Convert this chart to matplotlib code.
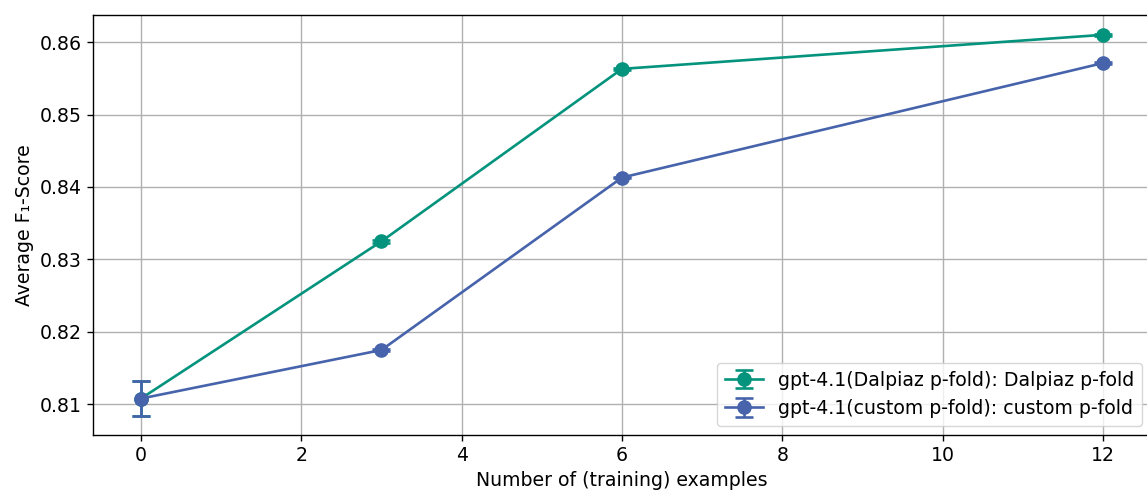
import matplotlib
matplotlib.use("Agg")
import matplotlib.pyplot as plt

examples = [0, 3, 6, 12]

dalpiaz_mean = [0.8108, 0.8325, 0.8563, 0.8610]
dalpiaz_err = [0.0024, 0.0002, 0.0001, 0.0001]

custom_mean = [0.8108, 0.8175, 0.8413, 0.8571]
custom_err = [0.0024, 0.0001, 0.0001, 0.0001]

labels = ["gpt-4.1(Dalpiaz p-fold): Dalpiaz p-fold",
          "gpt-4.1(custom p-fold): custom p-fold"]
colors = ["#04937c", "#4663ab"]

FS = 13.6

fig = plt.figure(figsize=(11.47, 4.94), dpi=100)
ax = fig.add_axes([0.081, 0.1194, 0.9225, 0.8502])

for mean, err, lab, col in zip([dalpiaz_mean, custom_mean],
                               [dalpiaz_err, custom_err], labels, colors):
    ax.errorbar(examples, mean, yerr=err, label=lab, color=col,
                marker="o", markersize=9.5, linewidth=1.9, capsize=6.5,
                elinewidth=1.9, capthick=1.9)

ax.set_xlabel("Number of (training) examples", fontsize=FS)
ax.set_ylabel("Average F\u2081-Score", fontsize=FS)
ax.tick_params(labelsize=FS, width=1.0, length=4.5)
for s in ax.spines.values():
    s.set_linewidth(1.0)
ax.grid(True, color="#b0b0b0", linewidth=1.0)
ax.set_axisbelow(True)
ax.legend(loc="lower right", fontsize=FS)

fig.savefig("out.png", dpi=100)
